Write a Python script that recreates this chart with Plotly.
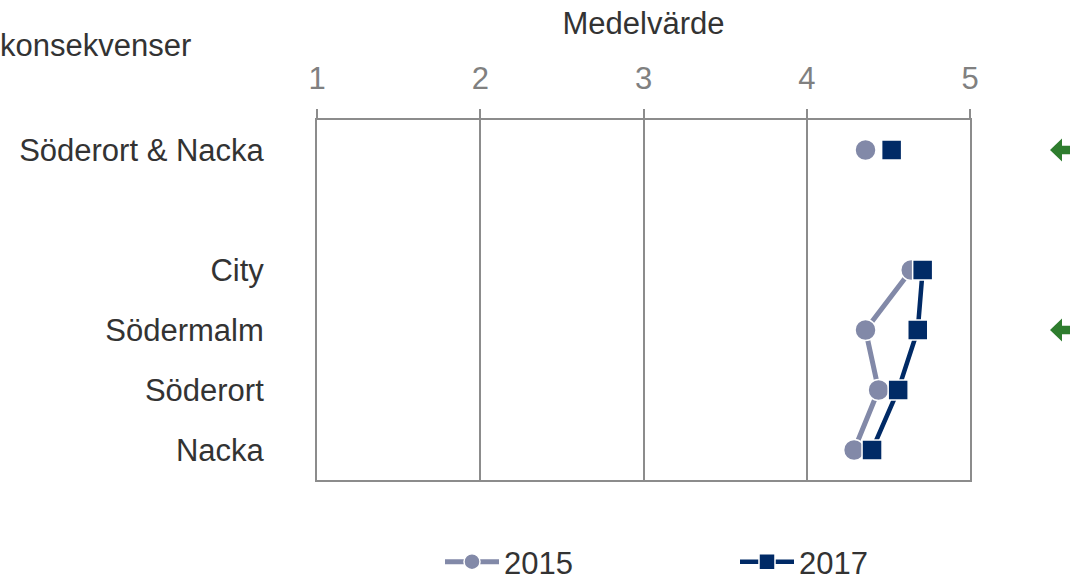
import plotly.graph_objects as go

categories = ["Söderort & Nacka", "", "City", "Södermalm", "Söderort", "Nacka"]
values_2015 = [4.36, None, 4.64, 4.36, 4.44, 4.29]
values_2017 = [4.52, None, 4.71, 4.68, 4.56, 4.40]
arrow_rows = [0, 3]  # rows with green indicator arrows
x_ticks = [1, 2, 3, 4, 5]

ypos = list(range(len(categories)))
FONT = "Liberation Sans, Arial, sans-serif"
GRID = "#8c8c8c"
C15 = "#8289a8"
C17 = "#002a66"
FS = 31

W, H = 1070, 581
L, T = 317, 120
PW, PH = 653, 360

fig = go.Figure()
fig.add_trace(go.Scatter(
    x=values_2015, y=ypos, name="2015", mode="lines+markers",
    line=dict(color=C15, width=5),
    marker=dict(symbol="circle", size=21, color=C15, line=dict(color="white", width=1.5)),
))
fig.add_trace(go.Scatter(
    x=values_2017, y=ypos, name="2017", mode="lines+markers",
    line=dict(color=C17, width=4.5),
    marker=dict(symbol="square", size=20, color=C17, line=dict(color="white", width=1.5)),
))

def px_x(v):  # page pixel -> paper x
    return (v - L) / PW

def px_y(v):  # page pixel -> paper y
    return 1 - (v - T) / PH

# green left-pointing arrows at the right edge (partially cut off)
shapes = []
for r in arrow_rows:
    x0, xh, xe = px_x(1050), px_x(1062), px_x(1085)
    h, s = 0.19, 0.07
    path = (f"M {x0},{r} L {xh},{r - h} L {xh},{r - s} L {xe},{r - s} "
            f"L {xe},{r + s} L {xh},{r + s} L {xh},{r + h} Z")
    shapes.append(dict(type="path", xref="paper", yref="y", path=path,
                       fillcolor="#2e7d2e", line=dict(width=0), layer="above"))

fig.update_layout(
    width=W, height=H,
    margin=dict(l=L, r=W - L - PW, t=T, b=H - T - PH, autoexpand=False),
    paper_bgcolor="white", plot_bgcolor="white",
    font=dict(family=FONT, size=FS, color="#333333"),
    shapes=shapes,
    showlegend=True,
    legend=dict(orientation="h", x=px_x(440), xanchor="left",
                y=px_y(562), yanchor="middle",
                font=dict(size=31, color="#333333"),
                entrywidth=226, entrywidthmode="pixels", itemwidth=54,
                tracegroupgap=0),
    annotations=[dict(text="konsekvenser", xref="paper", yref="paper",
                      x=px_x(-2), y=px_y(45),
                      xanchor="left", yanchor="middle", showarrow=False,
                      font=dict(size=FS, color="#333333"))],
)

fig.update_xaxes(
    range=[1, 5], side="top", tickvals=x_ticks,
    showgrid=True, gridcolor=GRID, gridwidth=2,
    showline=True, linecolor=GRID, linewidth=2, mirror=True,
    ticks="outside", ticklen=9, tickcolor=GRID, tickwidth=2,
    tickfont=dict(size=FS, color="#808080"), ticklabelstandoff=8,
    title=dict(text="Medelvärde", font=dict(size=FS, color="#333333"), standoff=17),
    zeroline=False,
)
fig.update_yaxes(
    range=[5.5, -0.5], tickvals=ypos, ticktext=categories,
    showgrid=False, showline=True, linecolor=GRID, linewidth=2, mirror=True,
    ticks="", tickfont=dict(size=FS, color="#333333"), ticklabelstandoff=45,
    zeroline=False,
)

fig.write_html(
    "out.html",
    config={"displayModeBar": False},
    post_script="document.body.style.margin='0';document.body.style.overflow='hidden';",
)
